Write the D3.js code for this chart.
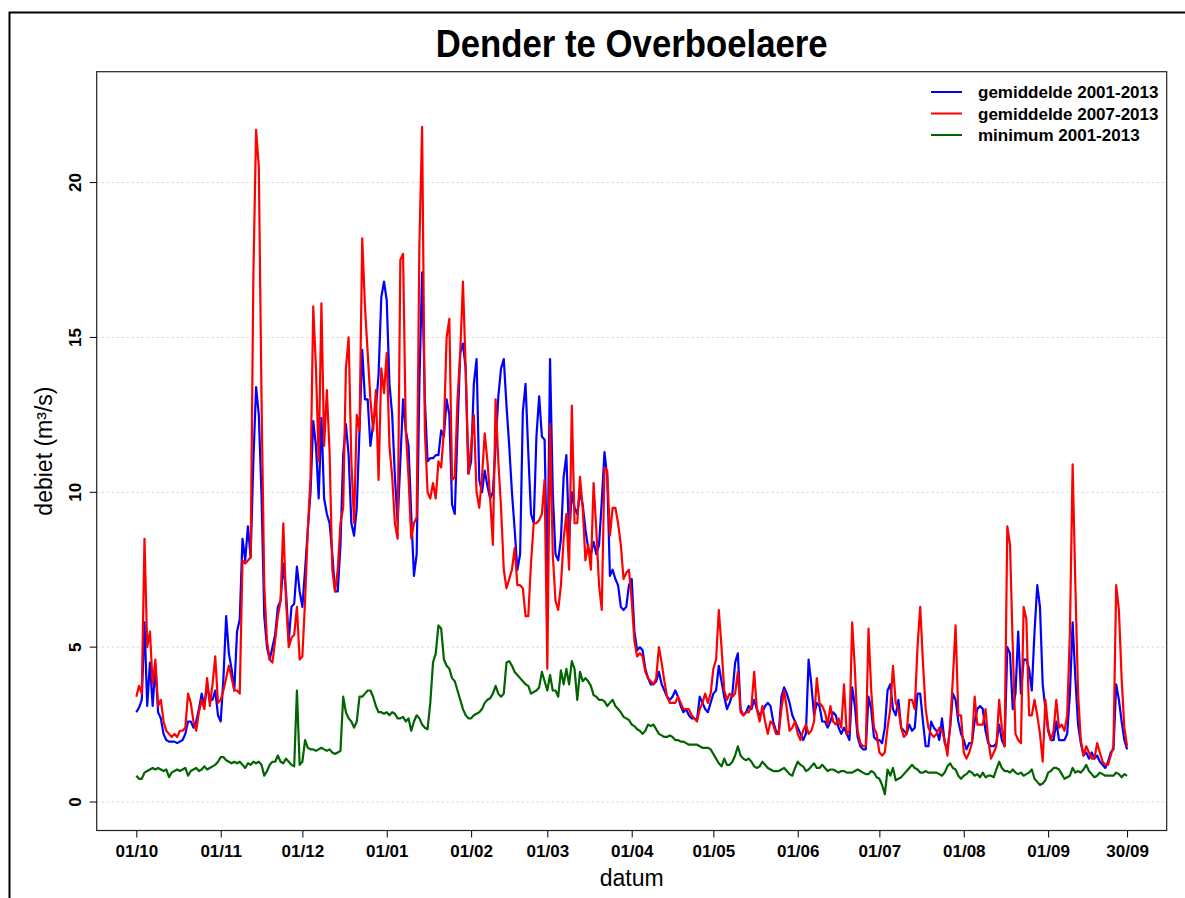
<!DOCTYPE html>
<html>
<head>
<meta charset="utf-8">
<script src="https://cdn.jsdelivr.net/npm/d3@7"></script>
<style>
  body { margin: 0; background: #fff; }
  text { font-family: Arial, "Liberation Sans", sans-serif; fill: #000; }
</style>
</head>
<body>
<script>
// daily discharge, hydrological year 01/10 - 30/09
const avgAll = [
  2.9,3.05,3.3,5.8,3.1,4.5,3.1,4.4,2.9,2.7,
  2.2,2.0,1.95,1.95,1.95,1.9,1.95,2.0,2.2,2.6,
  2.6,2.4,2.6,3.0,3.5,3.1,3.8,3.3,3.3,3.6,
  2.8,2.6,4.0,6.0,4.8,4.3,3.6,5.5,5.9,8.5,
  7.8,8.9,7.9,11.0,13.4,12.5,9.9,6.0,5.0,4.6,
  5.0,5.4,6.3,6.5,7.7,6.8,5.2,6.3,6.4,7.6,
  6.8,6.3,7.5,8.8,10.0,12.3,11.5,9.8,12.4,9.8,
  9.3,9.0,8.0,6.8,6.8,8.3,11.2,12.2,11.2,9.0,
  8.6,9.5,12.0,14.6,13.0,13.0,11.5,12.2,12.7,13.8,
  16.3,16.8,16.2,13.5,12.5,10.5,9.0,11.0,13.0,12.0,
  11.5,9.3,7.3,8.0,13.5,17.1,13.0,11.0,11.1,11.1,
  11.2,11.2,12.0,11.8,13.0,12.5,9.6,9.3,12.0,14.5,
  14.8,14.0,10.6,11.0,13.5,14.3,10.4,10.0,10.7,10.2,
  9.8,10.0,11.5,13.1,14.0,14.3,12.8,11.5,10.0,8.8,
  7.5,8.0,12.6,13.5,11.3,9.3,9.0,11.8,13.1,11.8,
  11.7,7.0,14.3,10.0,8.0,7.8,8.5,10.5,11.2,8.5,
  10.0,9.5,9.3,10.0,9.6,8.8,8.2,8.0,8.4,8.0,
  8.3,9.7,11.3,10.5,7.3,7.5,7.2,7.0,6.3,6.2,
  6.3,7.0,7.2,5.5,4.9,5.0,4.9,4.3,4.0,3.8,
  3.8,3.9,4.2,3.8,3.6,3.4,3.3,3.4,3.6,3.4,
  3.1,2.9,3.0,2.8,2.7,2.7,2.65,3.4,3.2,3.0,
  2.9,3.2,3.5,3.6,4.4,3.9,3.4,3.0,3.2,3.5,
  4.5,4.8,3.0,2.8,2.9,3.1,3.0,3.3,3.0,2.8,
  2.9,3.1,3.2,3.1,2.6,2.3,2.2,3.4,3.7,3.5,
  3.2,2.8,2.6,2.4,2.2,2.0,2.2,4.6,3.8,2.8,
  3.2,3.1,2.6,2.6,2.4,2.6,2.9,2.8,2.4,2.2,
  2.4,2.2,2.0,3.7,3.1,2.1,1.8,1.7,1.7,3.4,
  3.0,2.1,2.0,2.0,1.9,2.4,3.6,3.8,3.0,2.8,
  3.3,2.4,2.3,2.2,2.5,2.3,2.4,3.5,3.5,2.6,
  1.8,1.8,2.6,2.4,2.3,2.0,2.7,1.9,1.7,2.4,
  3.5,3.3,2.6,2.2,2.0,1.7,1.9,1.9,2.6,3.0,
  3.1,3.0,2.3,1.9,1.8,1.8,1.9,2.5,2.0,1.8,
  5.0,4.8,3.0,3.5,5.5,3.5,4.6,4.6,4.3,3.6,
  5.5,7.0,6.3,3.8,3.0,2.3,2.0,2.0,2.6,2.0,
  2.0,2.0,2.2,3.5,5.8,4.0,2.5,1.9,1.5,1.6,
  1.4,1.6,1.4,1.5,1.3,1.2,1.1,1.3,1.6,1.7,
  3.8,3.3,2.6,2.0,1.7
];

const avgRecent = [
  3.4,3.75,3.5,8.5,5.0,5.5,3.8,4.6,3.1,3.3,
  2.6,2.3,2.2,2.1,2.2,2.1,2.3,2.3,2.4,3.5,
  3.2,2.6,2.3,2.9,3.3,3.0,4.0,3.1,3.8,4.7,
  3.2,3.3,3.6,4.0,4.4,4.0,3.6,3.6,3.5,7.8,
  7.7,7.8,7.9,17.0,21.7,20.5,13.0,7.0,5.2,4.6,
  4.5,5.2,6.0,6.5,9.0,6.5,5.0,5.3,5.4,6.3,
  4.6,4.7,6.5,8.8,10.5,16.0,14.0,11.0,16.1,11.5,
  13.3,11.3,7.5,6.8,7.5,9.0,9.5,14.0,15.0,11.0,
  9.0,12.5,12.0,18.2,16.0,14.5,13.0,12.0,13.3,10.4,
  14.0,13.2,14.5,11.5,10.5,9.0,8.5,17.5,17.7,12.0,
  10.5,8.5,9.0,9.2,18.0,21.8,12.0,10.0,9.8,10.3,
  9.8,11.0,10.8,12.0,15.0,15.6,10.4,10.5,13.0,14.5,
  16.8,14.0,10.6,11.5,12.5,10.0,9.5,10.5,11.9,11.0,
  9.8,8.3,13.0,11.0,9.5,7.5,6.9,7.2,7.5,8.2,
  7.0,7.0,6.9,6.0,6.0,7.7,9.0,9.0,9.1,9.3,
  10.4,4.3,12.2,8.0,6.5,6.2,7.0,8.5,9.3,7.5,
  12.8,9.0,9.0,10.5,9.5,7.8,8.3,7.5,10.3,8.8,
  7.0,6.2,10.8,10.7,8.6,9.5,9.5,9.0,8.3,7.2,
  7.4,7.5,6.5,5.2,4.7,4.8,4.7,4.2,4.0,3.9,
  3.8,4.0,5.0,4.5,3.9,3.4,3.2,3.2,3.2,3.4,
  3.2,3.0,3.0,3.0,2.8,2.7,2.6,3.0,3.2,3.5,
  3.2,3.5,4.3,4.6,6.2,5.0,3.6,3.3,3.5,3.4,
  3.5,4.2,2.9,2.8,2.9,2.9,3.1,4.2,3.0,2.6,
  3.1,2.6,2.2,2.6,2.5,2.2,2.2,3.0,3.6,3.0,
  2.3,2.4,2.6,2.2,2.0,2.3,2.5,2.2,2.3,2.6,
  4.0,3.2,3.1,2.9,2.5,3.1,2.6,2.5,2.7,2.4,
  3.8,2.2,2.3,5.8,4.3,2.3,1.9,1.8,1.8,5.6,
  3.6,2.4,2.2,1.6,1.5,1.6,2.4,3.0,4.4,3.2,
  3.0,2.4,2.1,2.2,3.3,3.3,3.0,5.0,6.3,4.5,
  3.0,2.4,2.2,2.1,2.2,2.4,2.3,2.0,1.5,2.5,
  4.0,5.7,2.8,2.8,1.6,1.4,1.6,1.9,3.4,2.5,
  2.5,2.5,3.0,2.0,1.4,1.6,1.8,3.3,2.4,1.8,
  8.9,8.3,5.0,2.2,2.0,1.9,6.3,5.9,2.8,2.8,
  3.3,2.8,2.2,1.3,3.3,2.4,2.0,2.3,3.3,2.4,
  2.5,2.3,2.8,5.5,10.9,7.0,3.5,2.0,1.5,1.8,
  1.6,1.4,1.4,1.9,1.6,1.3,1.2,1.2,1.5,1.8,
  7.0,6.2,4.0,2.4,1.8
];

const minAll = [
  0.85,0.75,0.75,0.95,1.0,1.05,1.1,1.05,1.1,1.05,
  1.0,1.05,0.8,0.95,1.0,1.05,1.0,1.05,1.1,0.85,
  1.0,1.05,1.1,1.0,1.05,1.15,1.05,1.1,1.15,1.2,
  1.3,1.45,1.45,1.35,1.3,1.25,1.3,1.25,1.3,1.2,
  1.1,1.25,1.2,1.3,1.25,1.3,1.2,0.85,1.0,1.2,
  1.3,1.3,1.5,1.3,1.25,1.4,1.3,1.2,1.15,3.6,
  1.2,1.3,2.0,1.75,1.7,1.7,1.65,1.7,1.75,1.7,
  1.65,1.7,1.6,1.55,1.6,1.65,3.4,2.9,2.7,2.6,
  2.4,2.6,3.4,3.4,3.5,3.6,3.6,3.4,3.1,2.9,
  2.9,2.85,2.9,2.8,2.9,2.85,2.7,2.7,2.75,2.6,
  2.7,2.3,2.6,2.8,2.7,2.5,2.4,2.35,3.2,4.5,
  4.8,5.7,5.6,4.6,4.4,4.3,4.0,3.9,3.6,3.3,
  3.0,2.8,2.7,2.7,2.8,2.85,2.9,3.0,3.2,3.3,
  3.35,3.5,3.75,3.5,3.4,3.5,4.5,4.55,4.4,4.2,
  4.1,4.0,3.9,3.8,3.75,3.5,3.55,3.6,3.7,4.2,
  3.9,3.6,4.1,3.6,3.6,3.4,4.25,3.8,4.3,3.8,
  4.55,4.3,3.3,4.2,3.9,4.0,3.9,3.75,3.45,3.4,
  3.3,3.3,3.25,3.1,3.2,3.3,3.1,3.0,2.9,2.75,
  2.7,2.65,2.5,2.45,2.35,2.3,2.2,2.3,2.5,2.45,
  2.5,2.35,2.2,2.15,2.1,2.1,2.15,2.1,2.0,2.0,
  1.95,1.95,1.9,1.85,1.85,1.85,1.85,1.8,1.75,1.75,
  1.75,1.7,1.55,1.4,1.25,1.15,1.4,1.2,1.2,1.3,
  1.5,1.8,1.5,1.4,1.35,1.4,1.3,1.15,1.1,1.15,
  1.3,1.2,1.1,1.05,1.0,1.0,1.0,1.05,1.1,1.0,
  0.9,0.85,1.1,1.3,1.2,1.15,1.0,1.05,1.15,1.25,
  1.1,1.1,1.2,1.1,1.0,1.05,1.05,1.0,0.95,1.0,
  1.0,0.95,0.95,0.95,1.0,1.05,1.0,0.95,0.9,0.9,
  1.0,0.95,0.8,0.75,0.55,0.25,1.05,0.85,1.1,0.7,
  0.75,0.8,0.9,1.0,1.1,1.2,1.1,1.05,0.95,0.95,
  1.0,0.95,0.95,0.95,0.95,0.9,0.85,0.95,1.15,1.25,
  1.1,1.05,0.85,0.75,0.85,0.9,1.0,0.95,0.85,0.9,
  0.8,0.95,0.8,0.85,0.85,0.8,1.05,1.3,1.1,1.0,
  1.0,0.95,1.05,0.95,0.9,0.95,0.85,0.9,0.95,1.05,
  0.75,0.65,0.55,0.6,0.7,0.95,1.0,1.1,1.1,1.05,
  0.9,0.75,0.8,0.85,1.1,0.95,1.0,0.95,1.05,1.2,
  1.0,0.9,0.8,0.85,0.95,0.9,0.85,0.85,0.85,0.85,
  0.95,0.9,0.8,0.9,0.85
];

const seriesNames = ['gemiddelde 2001-2013', 'gemiddelde 2007-2013', 'minimum 2001-2013'];
const seriesColors = ['#0000ff', '#ff0000', '#006400'];
const xTickLabels = ['01/10','01/11','01/12','01/01','01/02','01/03','01/04','01/05','01/06','01/07','01/08','01/09','30/09'];
const yTicks = [0, 5, 10, 15, 20];

const width = 1185;
const height = 898;
const box = {left: 96.7, top: 71.7, right: 1166.7, bottom: 830.5};

const svg = d3.select('body').append('svg')
  .attr('width', width)
  .attr('height', height);

// outer frame of the figure
svg.append('path')
  .attr('d', `M9.5,${height + 5} V12.5 H${width + 5}`)
  .attr('fill', 'none')
  .attr('stroke', '#000')
  .attr('stroke-width', 2);

const start = new Date(Date.UTC(2012, 9, 1));
const end = d3.utcDay.offset(start, avgAll.length - 1);
const dates = avgAll.map((d, i) => d3.utcDay.offset(start, i));
const pad = (end - start) * 0.04;

const x = d3.scaleUtc()
  .domain([new Date(+start - pad), new Date(+end + pad)])
  .range([box.left, box.right]);

const y = d3.scaleLinear()
  .domain([-0.92, 23.58])
  .range([box.bottom, box.top]);

// grid
svg.append('g').selectAll('line')
  .data(yTicks)
  .enter()
  .append('line')
  .attr('x1', box.left)
  .attr('x2', box.right)
  .attr('y1', d => y(d))
  .attr('y2', d => y(d))
  .attr('stroke', '#cfcfcf')
  .attr('stroke-dasharray', '2,3');

// series
const line = d3.line()
  .x((d, i) => x(dates[i]))
  .y(d => y(d));

[avgAll, avgRecent, minAll].forEach((values, k) => {
  svg.append('path')
    .datum(values)
    .attr('d', line)
    .attr('fill', 'none')
    .attr('stroke', seriesColors[k])
    .attr('stroke-width', 2.2)
    .attr('stroke-linejoin', 'round');
});

// box
svg.append('rect')
  .attr('x', box.left)
  .attr('y', box.top)
  .attr('width', box.right - box.left)
  .attr('height', box.bottom - box.top)
  .attr('fill', 'none')
  .attr('stroke', '#222')
  .attr('stroke-width', 1.2);

// x axis
const xTickDates = d3.utcMonth.range(start, end).concat([end]);
const xAxis = svg.append('g')
  .attr('transform', `translate(0, ${box.bottom})`)
  .call(d3.axisBottom(x)
    .tickValues(xTickDates)
    .tickFormat((d, i) => xTickLabels[i])
    .tickSize(7)
    .tickPadding(7.5));
xAxis.select('.domain').remove();
xAxis.selectAll('line').attr('stroke', '#000');
xAxis.selectAll('text')
  .style('font-size', '17px')
  .style('font-weight', 'bold')
  .style('font-family', 'Arial, "Liberation Sans", sans-serif');

// y axis
const yAxis = svg.append('g');
yAxis.selectAll('line')
  .data(yTicks)
  .enter()
  .append('line')
  .attr('x1', box.left - 7)
  .attr('x2', box.left)
  .attr('y1', d => y(d))
  .attr('y2', d => y(d))
  .attr('stroke', '#000');
yAxis.selectAll('text')
  .data(yTicks)
  .enter()
  .append('text')
  .text(d => d)
  .attr('transform', d => `translate(81, ${y(d)}) rotate(-90)`)
  .attr('text-anchor', 'middle')
  .style('font-size', '17px')
  .style('font-weight', 'bold');

// titles
svg.append('text')
  .text('Dender te Overboelaere')
  .attr('x', (box.left + box.right) / 2)
  .attr('y', 56.7)
  .attr('text-anchor', 'middle')
  .attr('textLength', 392)
  .attr('lengthAdjust', 'spacingAndGlyphs')
  .style('font-size', '38px')
  .style('font-weight', 'bold');

svg.append('text')
  .text('datum')
  .attr('x', (box.left + box.right) / 2)
  .attr('y', 886)
  .attr('text-anchor', 'middle')
  .style('font-size', '23px');

svg.append('text')
  .text('debiet (m³/s)')
  .attr('transform', `translate(52, ${(box.top + box.bottom) / 2}) rotate(-90)`)
  .attr('text-anchor', 'middle')
  .style('font-size', '23px');

// legend
const legend = svg.append('g');
seriesNames.forEach((name, k) => {
  const ly = 92 + k * 21.5;
  legend.append('line')
    .attr('x1', 931)
    .attr('x2', 962)
    .attr('y1', ly)
    .attr('y2', ly)
    .attr('stroke', seriesColors[k])
    .attr('stroke-width', 2);
  legend.append('text')
    .text(name)
    .attr('x', 978)
    .attr('y', ly + 6)
    .style('font-size', '17px')
    .style('font-weight', 'bold');
});
</script>
</body>
</html>
